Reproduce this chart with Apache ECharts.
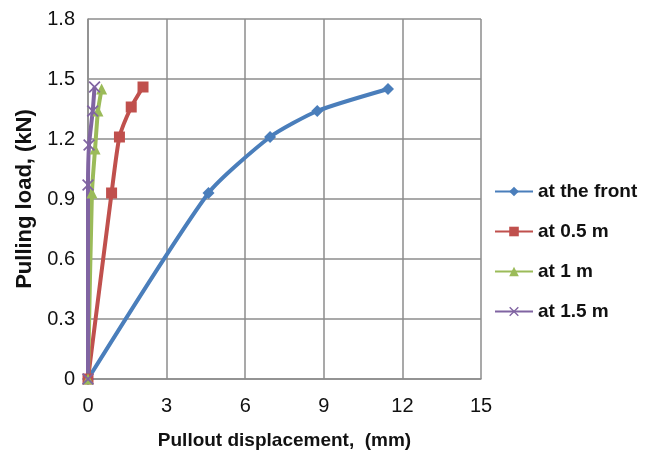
<!DOCTYPE html>
<html>
<head>
<meta charset="utf-8">
<script src="https://cdn.jsdelivr.net/npm/echarts@6/dist/echarts.min.js"></script>
<style>
  html, body { margin: 0; padding: 0; background: #fff; }
  #container { width: 648px; height: 457px; }
</style>
</head>
<body>
<div id="container"></div>
<script>
// series data, [displacement (mm), load (kN)]
var seriesNames = ['at the front', 'at 0.5 m', 'at 1 m', 'at 1.5 m'];
var frontData = [[0, 0], [4.6, 0.93], [6.95, 1.21], [8.75, 1.34], [11.45, 1.45]];
var halfData = [[0, 0], [0.9, 0.93], [1.2, 1.21], [1.65, 1.36], [2.1, 1.46]];
var oneData = [[0, 0], [0.15, 0.93], [0.27, 1.15], [0.38, 1.34], [0.52, 1.45]];
var oneHalfData = [[0, 0], [0, 0.97], [0.04, 1.17], [0.18, 1.34], [0.25, 1.46]];
var xTicks = [0, 3, 6, 9, 12, 15];
var yTicks = [0, 0.3, 0.6, 0.9, 1.2, 1.5, 1.8];

var colors = ['#4a7ebb', '#c0504d', '#9bbb59', '#8064a2'];
var crossPath = 'path://M0,1 L1,0 L5,4 L9,0 L10,1 L6,5 L10,9 L9,10 L5,6 L1,10 L0,9 L4,5 Z';
var fontName = 'Liberation Sans, Arial, sans-serif';

function makeSeries(name, data, symbol, size, color) {
    return {
        name: name,
        type: 'line',
        data: data,
        smooth: 0.2,
        symbol: symbol,
        symbolSize: size,
        clip: false,
        lineStyle: { width: 4, color: color },
        itemStyle: { color: color }
    };
}

var myChart = echarts.init(document.getElementById('container'));
var option = {
    animation: false,
    color: colors,
    grid: { left: 88, top: 19, right: 167, bottom: 78 },
    legend: {
        orient: 'vertical',
        left: 489,
        top: 177,
        itemWidth: 38,
        itemHeight: 12,
        itemGap: 21,
        data: seriesNames,
        textStyle: {
            fontFamily: fontName,
            fontWeight: 'bold',
            fontSize: 19,
            color: '#111'
        }
    },
    xAxis: {
        type: 'value',
        min: xTicks[0],
        max: xTicks[xTicks.length - 1],
        interval: xTicks[1] - xTicks[0],
        name: 'Pullout displacement,  (mm)',
        nameLocation: 'middle',
        nameGap: 52,
        nameTextStyle: {
            fontFamily: fontName,
            fontWeight: 'bold',
            fontSize: 19,
            color: '#111'
        },
        axisLine: { show: true, lineStyle: { color: '#8c8c8c', width: 1.5 } },
        axisTick: { show: false },
        axisLabel: {
            margin: 17,
            fontFamily: fontName,
            fontSize: 20,
            color: '#111'
        },
        splitLine: { lineStyle: { color: '#8c8c8c', width: 1.5 } }
    },
    yAxis: {
        type: 'value',
        min: yTicks[0],
        max: yTicks[yTicks.length - 1],
        interval: 0.3,
        name: 'Pulling load, (kN)',
        nameLocation: 'middle',
        nameGap: 52,
        nameTextStyle: {
            fontFamily: fontName,
            fontWeight: 'bold',
            fontSize: 22,
            color: '#111'
        },
        axisLine: { show: true, lineStyle: { color: '#8c8c8c', width: 1.5 } },
        axisTick: { show: false },
        axisLabel: {
            margin: 13,
            fontFamily: fontName,
            fontSize: 20,
            color: '#111'
        },
        splitLine: { lineStyle: { color: '#8c8c8c', width: 1.5 } }
    },
    series: [
        makeSeries(seriesNames[0], frontData, 'diamond', 12, colors[0]),
        makeSeries(seriesNames[1], halfData, 'rect', 11, colors[1]),
        makeSeries(seriesNames[2], oneData, 'triangle', 11, colors[2]),
        makeSeries(seriesNames[3], oneHalfData, crossPath, 12, colors[3])
    ]
};
myChart.setOption(option);
</script>
</body>
</html>
